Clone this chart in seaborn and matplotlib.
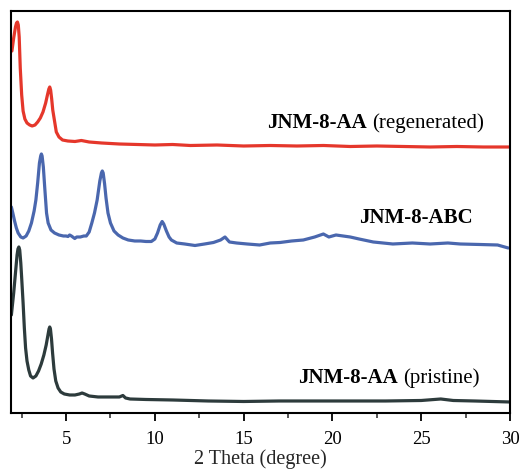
import matplotlib
matplotlib.use("Agg")
import matplotlib.pyplot as plt
from matplotlib.offsetbox import TextArea, HPacker, AnnotationBbox
from matplotlib.ticker import MultipleLocator
import pandas as pd
import seaborn as sns

# Stacked PXRD patterns (intensity in a.u., vertically offset)
two_theta_regen = [1.95, 2.05, 2.15, 2.21, 2.26, 2.31, 2.36, 2.42, 2.5, 2.58, 2.68, 2.8, 2.95, 3.09,
                   3.25, 3.4, 3.55, 3.7, 3.85, 3.95, 4.03, 4.08, 4.13, 4.19, 4.25, 4.35, 4.45,
                   4.6, 4.8, 5.1, 5.5, 5.86, 6.3, 7.0, 8.0, 9.0, 10.0, 11.0, 12.0, 13.5,
                   15.0, 16.5, 18.0, 19.5, 21.0, 22.5, 24.0, 25.5, 27.0, 28.5, 30.0]
intensity_regen = [362, 375, 386, 390, 391, 388, 376, 345, 318, 302, 294, 290, 288, 287,
                   288, 291, 295, 301, 310, 318, 324, 326, 323, 314, 303, 292, 281,
                   276, 273, 272, 271.5, 272.5, 271, 270, 269, 268.5, 268, 268.5, 267.5, 268,
                   267, 267.5, 267, 267.5, 266.5, 267, 266.5, 266, 266.5, 266, 266]

two_theta_abc = [1.92, 2.0, 2.1, 2.2, 2.3, 2.45, 2.58, 2.75, 2.9, 3.05, 3.2, 3.3, 3.4,
                 3.5, 3.57, 3.61, 3.65, 3.72, 3.8, 3.9, 3.99, 4.15, 4.35, 4.6, 4.85, 5.0, 5.11, 5.2,
                 5.3, 5.49, 5.6, 5.8, 6.0, 6.14, 6.3, 6.45, 6.6, 6.75, 6.9, 6.99, 7.04, 7.09, 7.17,
                 7.25, 7.36, 7.5, 7.7, 7.93, 8.2, 8.5, 8.87, 9.2, 9.5, 9.8, 10.0, 10.15,
                 10.3, 10.41, 10.5, 10.65, 10.8, 10.93, 11.23, 11.68, 12.26, 12.8, 13.3,
                 13.7, 13.95, 14.2, 14.6, 15.2, 15.9, 16.5, 17.05, 17.7, 18.36, 19.0,
                 19.49, 19.8, 20.2, 20.8, 21.0, 21.5, 22.3, 23.4, 24.5, 25.5, 26.5, 27.2,
                 28.3, 29.3, 29.9]
intensity_abc = [206, 200, 192, 185, 180, 176, 175, 177, 182, 190, 202, 213, 230,
                 250, 257, 259, 257, 246, 225, 200, 190, 183, 180, 178, 177, 177, 176.5, 178,
                 177, 174.5, 176, 176, 177, 177, 181, 190, 200, 213, 232, 240, 242, 240, 229,
                 215, 200, 190, 182, 178, 175, 173, 172, 172, 171.5, 171.5, 174, 180,
                 188, 191.5, 189, 182, 176, 173, 170, 169, 167.5, 169, 170.5,
                 173, 176, 171, 170, 169, 168, 170, 170.5, 172, 173, 176,
                 179, 176, 178, 176.5, 176, 174, 171, 169, 170, 169, 170, 169,
                 168.5, 168, 165]

two_theta_pristine = [1.92, 2.05, 2.15, 2.24, 2.29, 2.34, 2.39, 2.45, 2.5, 2.58, 2.65, 2.72, 2.8, 2.9,
                      3.0, 3.14, 3.3, 3.45, 3.6, 3.75, 3.88, 3.98, 4.04, 4.08, 4.12, 4.18, 4.24, 4.32,
                      4.42, 4.55, 4.7, 4.9, 5.2, 5.5, 5.75, 5.9, 6.05, 6.3, 6.8, 7.5, 8.0,
                      8.2, 8.35, 8.6, 9.5, 11.0, 13.0, 15.0, 17.0, 19.0, 21.0, 23.0, 25.0,
                      26.1, 26.8, 28.0, 30.0]
intensity_pristine = [98, 120, 140, 158, 164, 166, 163, 150, 135, 110, 85, 65, 52, 43,
                      37, 35, 37, 42, 49, 58, 68, 78, 84, 86, 84, 74, 60, 44,
                      32, 25, 21, 19, 18, 18, 19, 20, 19, 17, 16, 16, 16,
                      17.5, 15, 14, 13.5, 13, 12, 11.5, 12, 12, 12, 12, 12.5,
                      14, 12.5, 12, 11]

series_names = ["regenerated", "ABC", "pristine"]
series_colors = ["#E5372B", "#4A67AE", "#2D3B3C"]

frames = [
    pd.DataFrame({"two_theta": two_theta_regen, "intensity": intensity_regen, "sample": "regenerated"}),
    pd.DataFrame({"two_theta": two_theta_abc, "intensity": intensity_abc, "sample": "ABC"}),
    pd.DataFrame({"two_theta": two_theta_pristine, "intensity": intensity_pristine, "sample": "pristine"}),
]
data = pd.concat(frames, ignore_index=True)

sns.set_style("ticks")
plt.rcParams["font.family"] = ["Liberation Serif", "DejaVu Serif"]

fig = plt.figure(figsize=(5.2, 4.7), dpi=100)
ax = fig.add_axes([0.0212, 0.1213, 0.9596, 0.8553])

sns.lineplot(data=data, x="two_theta", y="intensity", hue="sample",
             hue_order=series_names, palette=series_colors, sort=False,
             linewidth=2.3, legend=False, ax=ax)

ax.set_xlim(1.9, 30)
ax.set_ylim(0, 402)
ax.xaxis.set_major_locator(MultipleLocator(5))
ax.xaxis.set_minor_locator(MultipleLocator(2.5))
ax.tick_params(axis="x", which="major", direction="out", length=6, width=1.3,
               labelsize=13.5, pad=7, colors="black")
ax.tick_params(axis="x", which="minor", direction="out", length=3.5, width=1.1)
ax.set_yticks([])
ax.set_ylabel("")
ax.set_xlabel("2 Theta (degree)", fontsize=14.5, labelpad=1)
for side in ["left", "right", "top", "bottom"]:
    ax.spines[side].set_visible(True)
    ax.spines[side].set_linewidth(1.5)
    ax.spines[side].set_color("black")

# Sample labels: bold sample code followed by a regular-weight note
label_bold = ["JNM-8-AA", "JNM-8-ABC", "JNM-8-AA"]
label_note = ["(regenerated)", "", "(pristine)"]
label_x = [28.55, 27.9, 28.3]
label_y = [290, 195, 35]

for bold, note, lx, ly in zip(label_bold, label_note, label_x, label_y):
    parts = [TextArea(bold, textprops=dict(fontsize=15, fontweight="bold",
                                           family=["Liberation Serif"], color="black"))]
    if note:
        parts.append(TextArea(note, textprops=dict(fontsize=15, family=["Liberation Serif"],
                                                   color="black")))
    box = HPacker(children=parts, align="baseline", pad=0, sep=4)
    ab = AnnotationBbox(box, (lx, ly), xycoords="data", box_alignment=(1, 0.5),
                        frameon=False, pad=0)
    ax.add_artist(ab)

fig.savefig("out.png", dpi=100)
